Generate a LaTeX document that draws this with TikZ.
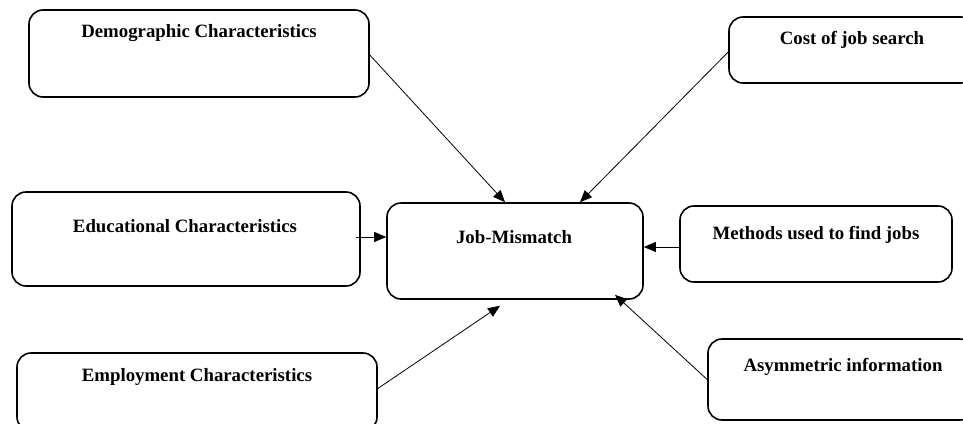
\documentclass[tikz,border=0pt]{standalone}
\usepackage{fontspec}
\setmainfont{Liberation Serif}
\usetikzlibrary{arrows.meta}
\begin{document}
\begin{tikzpicture}[x=1pt,y=-1pt,
  box/.style={draw=black,line width=1.6pt,rounded corners=14pt,inner sep=0pt,fill=white},
  lbl/.style={inner sep=0pt,font=\fontsize{18.8}{22}\selectfont\bfseries},
  conn/.style={line width=0.8pt,-{Triangle[length=12pt,width=10pt]}}]
\useasboundingbox (0,0) rectangle (963,423);
\clip (0,0) rectangle (963,423);
\fill[white] (0,0) rectangle (963,423);
% boxes
\node[box,minimum width=340pt,minimum height=87pt] (dem) at (199,53.5) {};
\node[box,minimum width=246pt,minimum height=66pt] (cost) at (852,50) {};
\node[box,minimum width=348pt,minimum height=94pt] (edu) at (186,239) {};
\node[box,minimum width=256pt,minimum height=96pt] (job) at (515,251) {};
\node[box,minimum width=272pt,minimum height=76pt] (meth) at (816,244) {};
\node[box,minimum width=360pt,minimum height=78pt] (emp) at (197,392) {};
\node[box,minimum width=266pt,minimum height=81pt] (asym) at (841,379.5) {};
% labels
\node[lbl] (demt) at (199,33) {Demographic Characteristics};
\node[lbl] (costt) at (852,40) {Cost of job search};
\node[lbl] (edut) at (185,226) {Educational Characteristics};
\node[lbl] (jobt) at (514,237) {Job-Mismatch};
\node[lbl] (metht) at (816,235) {Methods used to find jobs};
\node[lbl] (empt) at (197,377) {Employment Characteristics};
\node[lbl] (asymt) at (843,367) {Asymmetric information};
% connectors
\draw[conn] ([yshift=-1.5pt]dem.east) -- ([xshift=-10pt]job.north);
\draw[conn] ([yshift=-2pt]cost.west) -- ([xshift=65pt]job.north);
\draw[conn] ([xshift=-5pt,yshift=2pt]edu.east) -- ([yshift=14pt]job.west);
\draw[conn] ([yshift=-3pt]meth.west) -- ([yshift=4pt]job.east);
\draw[conn] ([yshift=3.5pt]emp.east) -- ([xshift=-15pt,yshift=-6pt]job.south);
\draw[conn] ([yshift=0pt]asym.west) -- ([xshift=100pt,yshift=5pt]job.south);
\end{tikzpicture}
\end{document}
